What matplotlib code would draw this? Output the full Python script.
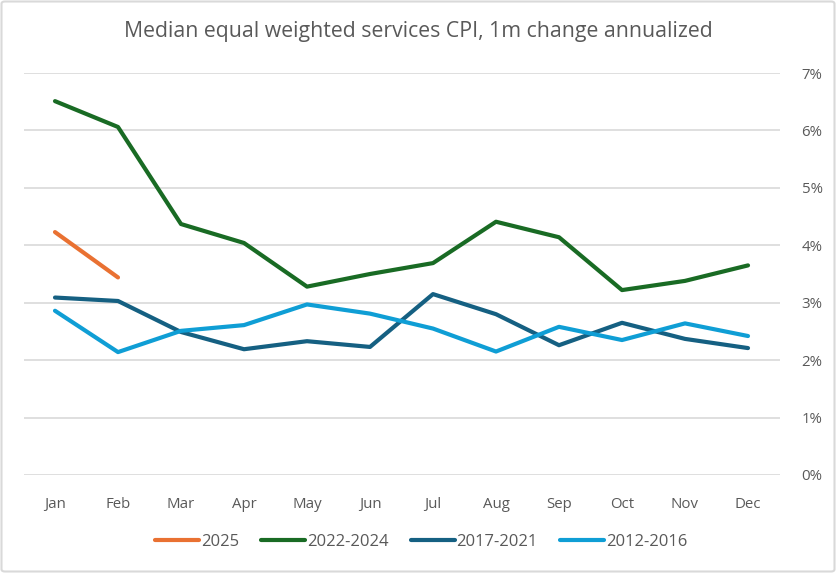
import matplotlib
matplotlib.use("Agg")
import matplotlib.pyplot as plt
from matplotlib.patches import FancyBboxPatch

months = ["Jan", "Feb", "Mar", "Apr", "May", "Jun", "Jul", "Aug", "Sep", "Oct", "Nov", "Dec"]
s2025 = [4.23, 3.44]
s2022_2024 = [6.51, 6.06, 4.37, 4.04, 3.28, 3.50, 3.69, 4.41, 4.14, 3.22, 3.38, 3.65]
s2017_2021 = [3.09, 3.03, 2.49, 2.19, 2.33, 2.23, 3.15, 2.80, 2.26, 2.65, 2.37, 2.21]
s2012_2016 = [2.86, 2.14, 2.51, 2.61, 2.97, 2.81, 2.55, 2.15, 2.58, 2.35, 2.64, 2.42]
yticks = [0, 1, 2, 3, 4, 5, 6, 7]
title = "Median equal weighted services CPI, 1m change annualized"

plt.rcParams['font.family'] = ['Open Sans', 'DejaVu Sans']
W, H = 836, 573
fig = plt.figure(figsize=(W / 100, H / 100), dpi=100)
ax = fig.add_axes([23.5 / W, 1 - 475 / H, (779.5 - 23.5) / W, (475 - 73) / H])

grey = "#595959"
series = [
    ("2025", s2025, "#E97132"),
    ("2022-2024", s2022_2024, "#196B24"),
    ("2017-2021", s2017_2021, "#156082"),
    ("2012-2016", s2012_2016, "#0F9ED5"),
]
x = list(range(len(months)))
for name, vals, col in series:
    ax.plot(x[:len(vals)], vals, color=col, lw=3, solid_capstyle="round",
            solid_joinstyle="round", label=name, zorder=3)

ax.set_xlim(-0.5, 11.5)
ax.set_ylim(0, 7)
ax.set_yticks(yticks)
ax.set_yticklabels([f"{v}%" for v in yticks])
ax.yaxis.tick_right()
ax.set_xticks(x)
ax.set_xticklabels(months)
ax.tick_params(axis="both", length=0, colors=grey, labelsize=10.8)
ax.tick_params(axis="x", pad=16)
for lab in ax.get_yticklabels():
    lab.set_horizontalalignment("right")
    lab.set_x(1.0 + 43 / (779.5 - 23.5))
ax.tick_params(axis="y", pad=0)
ax.grid(axis="y", color="#D9D9D9", lw=1.2, zorder=0)
for sp in ax.spines.values():
    sp.set_visible(False)

fig.text(418 / W, 1 - 32 / H, title, ha="center", va="center", fontsize=15.3, color=grey)

leg = fig.legend(loc="center", bbox_to_anchor=(421 / W, 1 - 542 / H), ncol=4, frameon=False,
                 fontsize=12, handlelength=2.64, handletextpad=0.12, columnspacing=1.32)
for t in leg.get_texts():
    t.set_color(grey)

border = FancyBboxPatch((1.5 / W, 1.5 / H), 1 - 3 / W, 1 - 3 / H,
                        boxstyle="round,pad=0,rounding_size=0.004", transform=fig.transFigure,
                        fill=False, edgecolor="#D9D9D9", lw=1.5)
fig.patches.append(border)

fig.savefig("out.png", dpi=100)
